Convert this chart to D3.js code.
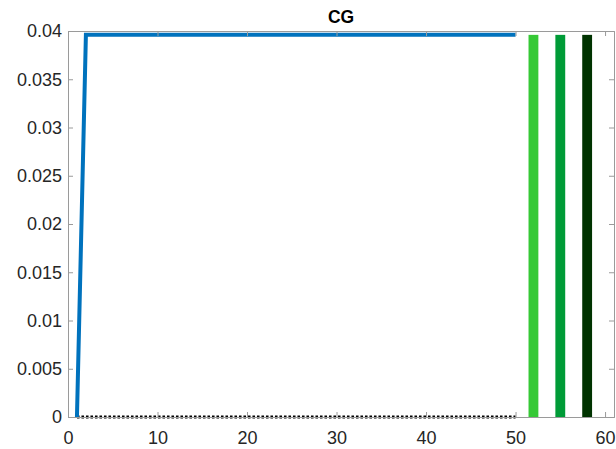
<!DOCTYPE html>
<html>
<head>
<meta charset="utf-8">
<script src="https://cdn.jsdelivr.net/npm/d3@7"></script>
<style>
  html, body { margin: 0; padding: 0; background: #fff; }
  svg { display: block; font-family: "Liberation Sans", Arial, sans-serif; }
</style>
</head>
<body>
<svg id="chart" width="616" height="449"></svg>
<script>
// Main path: rises from 0 at step 1 to its plateau at step 2 and holds to step 50
const pathSteps = [1, 2, 50];
const pathValues = [0, 0.0396, 0.0396];

// Baseline series drawn dotted along zero
const baseSteps = [1, 50];
const baseValues = [0, 0];

// Summary bars on the right
const barPositions = [52, 55, 58];
const barValues = [0.0396, 0.0396, 0.0396];
const barColors = ["#36c936", "#009b37", "#003300"];
const barWidth = 1.1;

const xTicks = [0, 10, 20, 30, 40, 50, 60];
const yTicks = [0, 0.005, 0.01, 0.015, 0.02, 0.025, 0.03, 0.035, 0.04];
const titleText = "CG";

const margin = { left: 68, right: 2, top: 31, bottom: 32 };
const W = 616, H = 449;
const svg = d3.select("#chart");

const x = d3.scaleLinear().domain([0, 61]).range([margin.left, W - margin.right]);
const y = d3.scaleLinear().domain([0, 0.04]).range([H - margin.bottom, margin.top]);

const axisColor = "#9a9a9a";
const textColor = "#262626";

// Bars
svg.append("g").selectAll("rect")
  .data(barPositions)
  .join("rect")
  .attr("x", (d) => x(d - barWidth / 2))
  .attr("width", (d) => x(d + barWidth / 2) - x(d - barWidth / 2))
  .attr("y", (d, i) => y(barValues[i]))
  .attr("height", (d, i) => y(0) - y(barValues[i]))
  .attr("fill", (d, i) => barColors[i]);

// Dotted zero baseline
const line = d3.line().x((d) => x(d[0])).y((d) => y(d[1]));
svg.append("path")
  .datum(baseSteps.map((s, i) => [s, baseValues[i]]))
  .attr("d", line)
  .attr("fill", "none")
  .attr("stroke", "#000")
  .attr("stroke-width", 3)
  .attr("stroke-dasharray", "2.6,1.9");

// Main path
svg.append("path")
  .datum(pathSteps.map((s, i) => [s, pathValues[i]]))
  .attr("d", line)
  .attr("fill", "none")
  .attr("stroke", "#0072bd")
  .attr("stroke-width", 4)
  .attr("stroke-linejoin", "miter");

// Axes (ticks pointing inward, boxed)
const tickLen = 5;
const axB = svg.append("g").attr("transform", `translate(0,${y(0)})`)
  .call(d3.axisBottom(x).tickValues(xTicks).tickSize(-tickLen).tickPadding(14).tickFormat(d3.format("d")));
const axT = svg.append("g").attr("transform", `translate(0,${y(0.04)})`)
  .call(d3.axisTop(x).tickValues(xTicks).tickSize(-tickLen).tickFormat(""));
const axL = svg.append("g").attr("transform", `translate(${x(0)},0)`)
  .call(d3.axisLeft(y).tickValues(yTicks).tickSize(-tickLen).tickPadding(6).tickFormat((d) => d3.format("")(+d.toFixed(3))));
const axR = svg.append("g").attr("transform", `translate(${x(61)},0)`)
  .call(d3.axisRight(y).tickValues(yTicks).tickSize(-tickLen).tickFormat(""));

[axB, axT, axL, axR].forEach((g) => {
  g.select(".domain").attr("stroke", axisColor).attr("stroke-width", 1);
  g.selectAll(".tick line").attr("stroke", axisColor).attr("stroke-width", 1);
  g.selectAll(".tick text").attr("fill", textColor).attr("font-size", 18)
    .attr("font-family", "'Liberation Sans', Arial, sans-serif");
});

// Title
svg.append("text")
  .attr("x", (x(0) + x(61)) / 2)
  .attr("y", 23)
  .attr("text-anchor", "middle")
  .attr("font-size", 17.5)
  .attr("font-weight", "bold")
  .attr("fill", "#000")
  .text(titleText);
</script>
</body>
</html>
